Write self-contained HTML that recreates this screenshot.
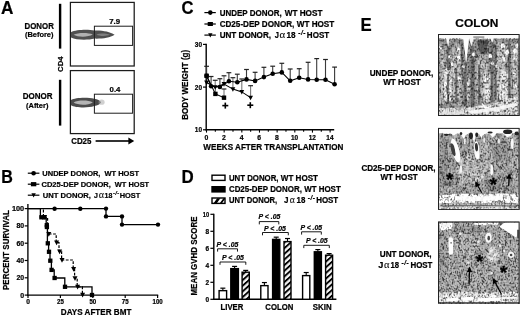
<!DOCTYPE html>
<html lang="en"><head><meta charset="utf-8"><title>Figure</title>
<style>
html,body{margin:0;padding:0;background:#fff;}
body{width:520px;height:316px;overflow:hidden;}
svg{display:block;font-family:'Liberation Sans', sans-serif;}
</style></head><body>
<svg width="520" height="316" viewBox="0 0 520 316" font-family="'Liberation Sans', sans-serif" fill="#000">
<defs>
<filter id="soft" x="0" y="0" width="100%" height="100%" filterUnits="userSpaceOnUse"><feGaussianBlur stdDeviation="0.28"/></filter>
<filter id="blur1" x="-20%" y="-50%" width="140%" height="200%"><feGaussianBlur stdDeviation="0.45"/></filter>
<pattern id="hatch" width="4.2" height="4.2" patternUnits="userSpaceOnUse" patternTransform="rotate(-42)">
<rect width="4.2" height="4.2" fill="#f4f4f4"/><rect width="4.2" height="1.9" fill="#000"/></pattern>
<filter id="hb" filterUnits="userSpaceOnUse" x="0" y="0" width="81" height="81.4"><feGaussianBlur stdDeviation="0.55"/></filter>
<filter id="h0" filterUnits="userSpaceOnUse" x="0" y="0" width="81" height="81.4" color-interpolation-filters="sRGB"><feGaussianBlur in="SourceGraphic" stdDeviation="0.6" result="s"/><feTurbulence type="fractalNoise" baseFrequency="0.3 0.2" numOctaves="2" seed="4"/><feColorMatrix type="matrix" values="0.5 0.5 0 0 0  0.5 0.5 0 0 0  0.5 0.5 0 0 0  0 0 0 0 1" result="a"/><feTurbulence type="fractalNoise" baseFrequency="0.62 0.5" numOctaves="1" seed="41"/><feColorMatrix type="matrix" values="0.5 0.5 0 0 0  0.5 0.5 0 0 0  0.5 0.5 0 0 0  0 0 0 0 1" result="b"/><feComposite in="a" in2="b" operator="arithmetic" k1="0" k2="0.45" k3="0.75" k4="-0.100"/><feComponentTransfer result="n"><feFuncR type="table" tableValues="0.281 0.281 0.281 0.281 0.281 0.281 0.297 0.344 0.453 0.625 0.781 0.859 0.914 0.953 0.984 1.000 1.000 1.000 1.000 1.000 1.000"/><feFuncG type="table" tableValues="0.281 0.281 0.281 0.281 0.281 0.281 0.297 0.344 0.453 0.625 0.781 0.859 0.914 0.953 0.984 1.000 1.000 1.000 1.000 1.000 1.000"/><feFuncB type="table" tableValues="0.281 0.281 0.281 0.281 0.281 0.281 0.297 0.344 0.453 0.625 0.781 0.859 0.914 0.953 0.984 1.000 1.000 1.000 1.000 1.000 1.000"/><feFuncA type="linear" slope="0" intercept="1"/></feComponentTransfer><feComposite in="s" in2="n" operator="arithmetic" k1="1.357" k2="0.0" k3="0" k4="0" result="o"/><feGaussianBlur in="o" stdDeviation="0.34"/></filter>
<filter id="h1" filterUnits="userSpaceOnUse" x="0" y="0" width="81" height="81.4" color-interpolation-filters="sRGB"><feGaussianBlur in="SourceGraphic" stdDeviation="0.6" result="s"/><feTurbulence type="fractalNoise" baseFrequency="0.28 0.17" numOctaves="2" seed="17"/><feColorMatrix type="matrix" values="0.5 0.5 0 0 0  0.5 0.5 0 0 0  0.5 0.5 0 0 0  0 0 0 0 1" result="a"/><feTurbulence type="fractalNoise" baseFrequency="0.62 0.52" numOctaves="1" seed="43"/><feColorMatrix type="matrix" values="0.5 0.5 0 0 0  0.5 0.5 0 0 0  0.5 0.5 0 0 0  0 0 0 0 1" result="b"/><feComposite in="a" in2="b" operator="arithmetic" k1="0" k2="0.45" k3="0.75" k4="-0.100"/><feComponentTransfer result="n"><feFuncR type="table" tableValues="0.281 0.281 0.281 0.281 0.281 0.281 0.297 0.344 0.453 0.625 0.781 0.859 0.914 0.953 0.984 1.000 1.000 1.000 1.000 1.000 1.000"/><feFuncG type="table" tableValues="0.281 0.281 0.281 0.281 0.281 0.281 0.297 0.344 0.453 0.625 0.781 0.859 0.914 0.953 0.984 1.000 1.000 1.000 1.000 1.000 1.000"/><feFuncB type="table" tableValues="0.281 0.281 0.281 0.281 0.281 0.281 0.297 0.344 0.453 0.625 0.781 0.859 0.914 0.953 0.984 1.000 1.000 1.000 1.000 1.000 1.000"/><feFuncA type="linear" slope="0" intercept="1"/></feComponentTransfer><feComposite in="s" in2="n" operator="arithmetic" k1="1.408" k2="0.0" k3="0" k4="0" result="o"/><feGaussianBlur in="o" stdDeviation="0.34"/></filter>
<filter id="h2" filterUnits="userSpaceOnUse" x="0" y="0" width="81" height="81.4" color-interpolation-filters="sRGB"><feGaussianBlur in="SourceGraphic" stdDeviation="0.6" result="s"/><feTurbulence type="fractalNoise" baseFrequency="0.3 0.18" numOctaves="2" seed="29"/><feColorMatrix type="matrix" values="0.5 0.5 0 0 0  0.5 0.5 0 0 0  0.5 0.5 0 0 0  0 0 0 0 1" result="a"/><feTurbulence type="fractalNoise" baseFrequency="0.64 0.54" numOctaves="1" seed="47"/><feColorMatrix type="matrix" values="0.5 0.5 0 0 0  0.5 0.5 0 0 0  0.5 0.5 0 0 0  0 0 0 0 1" result="b"/><feComposite in="a" in2="b" operator="arithmetic" k1="0" k2="0.4" k3="0.8" k4="-0.100"/><feComponentTransfer result="n"><feFuncR type="table" tableValues="0.281 0.281 0.281 0.281 0.281 0.281 0.297 0.344 0.453 0.625 0.781 0.859 0.914 0.953 0.984 1.000 1.000 1.000 1.000 1.000 1.000"/><feFuncG type="table" tableValues="0.281 0.281 0.281 0.281 0.281 0.281 0.297 0.344 0.453 0.625 0.781 0.859 0.914 0.953 0.984 1.000 1.000 1.000 1.000 1.000 1.000"/><feFuncB type="table" tableValues="0.281 0.281 0.281 0.281 0.281 0.281 0.297 0.344 0.453 0.625 0.781 0.859 0.914 0.953 0.984 1.000 1.000 1.000 1.000 1.000 1.000"/><feFuncA type="linear" slope="0" intercept="1"/></feComponentTransfer><feComposite in="s" in2="n" operator="arithmetic" k1="1.498" k2="0.0" k3="0" k4="0" result="o"/><feGaussianBlur in="o" stdDeviation="0.34"/></filter>
</defs>
<rect width="520" height="316" fill="#fff"/>
<g filter="url(#soft)">
<g id="panelA">
<text x="0.9" y="13.7" font-size="17.5" font-weight="bold" text-anchor="start" textLength="12.4" lengthAdjust="spacingAndGlyphs" stroke="#000" stroke-width="0.22">A</text>
<rect x="58.9" y="3.8" width="2.4" height="44.8"/>
<rect x="58.9" y="79.8" width="2.4" height="45.8"/>
<g filter="url(#blur1)">
<path d="M71 32.2C76 29.6 88 29.2 94.4 30.6C102 30.2 110 31.8 114.6 34.8C110 38 102 38.8 94.4 38.6C88 40.4 76 40.2 71 37.6C70.2 36 70.2 33.8 71 32.2Z" fill="#505050"/>
<path d="M73.6 34.8C78 32.6 88 32.4 92.8 34.6C88 37.4 78 37.4 73.6 34.8Z" fill="#b0b0b0"/>
<path d="M96.4 34.4C100 33 106 33.4 110 34.8C106 36.2 100 36.4 96.4 34.4Z" fill="#808080"/>
<path d="M71 100C75 97.4 88 97 94.2 98.8C97.6 99 100 100.6 101 102.2C100 104.4 97.6 105.6 94.2 106C88 108.2 75 107.8 71 105.2C70.2 103.6 70.2 101.6 71 100Z" fill="#4c4c4c"/>
<path d="M73.6 102.6C78 100 88 100 92.8 102.4C88 105.4 78 105.4 73.6 102.6Z" fill="#b4b4b4"/>
<ellipse cx="101.6" cy="102.2" rx="3" ry="2.6" fill="#aaa" opacity=".55"/>
</g>
<g fill="none" stroke="#1c1c1c" stroke-width="1.25">
<rect x="70.4" y="2.4" width="63.8" height="63.6"/>
<rect x="70.4" y="70.6" width="63.8" height="63"/>
<rect x="94.4" y="26.2" width="38.2" height="19.2" stroke-width="1"/>
<rect x="94.4" y="94.2" width="38.2" height="19" stroke-width="1"/>
</g>
<text x="114.6" y="24.3" font-size="7.8" font-weight="bold" text-anchor="middle" textLength="10.8" lengthAdjust="spacingAndGlyphs" stroke="#000" stroke-width="0.22">7.9</text>
<text x="115" y="92.1" font-size="7.8" font-weight="bold" text-anchor="middle" textLength="10.8" lengthAdjust="spacingAndGlyphs" stroke="#000" stroke-width="0.22">0.4</text>
<text x="39.2" y="28.5" font-size="8.5" font-weight="bold" text-anchor="middle" textLength="29.2" lengthAdjust="spacingAndGlyphs" stroke="#000" stroke-width="0.22">DONOR</text>
<text x="39.2" y="36.7" font-size="7.8" font-weight="bold" text-anchor="middle" textLength="28.6" lengthAdjust="spacingAndGlyphs" stroke="#000" stroke-width="0.22">(Before)</text>
<text x="37.6" y="99.1" font-size="8.5" font-weight="bold" text-anchor="middle" textLength="29.8" lengthAdjust="spacingAndGlyphs" stroke="#000" stroke-width="0.22">DONOR</text>
<text x="37.2" y="107.7" font-size="7.8" font-weight="bold" text-anchor="middle" textLength="22.4" lengthAdjust="spacingAndGlyphs" stroke="#000" stroke-width="0.22">(After)</text>
<text transform="translate(63 64.2) rotate(-90)" font-size="8" font-weight="bold" text-anchor="middle" stroke="#000" stroke-width="0.22" textLength="15.6" lengthAdjust="spacingAndGlyphs">CD4</text>
<text x="71.2" y="144.2" font-size="8.4" font-weight="bold" text-anchor="start" textLength="20.2" lengthAdjust="spacingAndGlyphs" stroke="#000" stroke-width="0.22">CD25</text>
<rect x="95.6" y="140.2" width="34.6" height="1.6"/>
<path d="M128.4 137.6L134.2 141L128.4 144.4Z"/>
</g>
<g id="panelB">
<text x="1.2" y="182.8" font-size="17.5" font-weight="bold" text-anchor="start" textLength="11.6" lengthAdjust="spacingAndGlyphs" stroke="#000" stroke-width="0.22">B</text>
<line x1="27.8" y1="173.2" x2="39.4" y2="173.2" stroke="#000" stroke-width="1.2"/>
<line x1="27.8" y1="184.2" x2="39.4" y2="184.2" stroke="#000" stroke-width="1.2"/>
<line x1="27.8" y1="195.2" x2="39.4" y2="195.2" stroke="#000" stroke-width="1.2"/>
<circle cx="33.6" cy="173.2" r="2.3"/>
<rect x="30.9" y="182.10" width="5.4" height="4.2"/>
<path d="M31.400000000000002 193.34H35.800000000000004L33.6 197.51999999999998Z"/>
<text x="42.35" y="175.9" font-size="7.5" font-weight="bold" text-anchor="start" textLength="58.1" lengthAdjust="spacingAndGlyphs" stroke="#000" stroke-width="0.22">UNDEP DONOR,</text>
<text x="104.45" y="175.9" font-size="7.5" font-weight="bold" text-anchor="start" textLength="34.6" lengthAdjust="spacingAndGlyphs" stroke="#000" stroke-width="0.22">WT HOST</text>
<text x="41.45" y="186.9" font-size="7.5" font-weight="bold" text-anchor="start" textLength="69.4" lengthAdjust="spacingAndGlyphs" stroke="#000" stroke-width="0.22">CD25-DEP DONOR,</text>
<text x="114.85" y="186.9" font-size="7.5" font-weight="bold" text-anchor="start" textLength="34.3" lengthAdjust="spacingAndGlyphs" stroke="#000" stroke-width="0.22">WT HOST</text>
<text x="42.75" y="197.8" font-size="7.5" font-weight="bold" text-anchor="start" textLength="48.2" lengthAdjust="spacingAndGlyphs" stroke="#000" stroke-width="0.22">UNT DONOR,</text>
<text x="94.05" y="197.8" font-size="7.5" font-weight="bold" text-anchor="start" textLength="3.9" lengthAdjust="spacingAndGlyphs" stroke="#000" stroke-width="0.22">J</text>
<text x="98.70" y="197.8" font-size="9.75" font-weight="normal" font-family="'Liberation Serif', serif" fill="#111" stroke="#111" stroke-width="0.12" textLength="5.30" lengthAdjust="spacingAndGlyphs">α</text>
<text x="104.55" y="197.8" font-size="7.5" font-weight="bold" text-anchor="start" textLength="7.8" lengthAdjust="spacingAndGlyphs" stroke="#000" stroke-width="0.22">18</text>
<text x="113.1" y="195.1" font-size="5.85" font-weight="bold" text-anchor="start" font-style="italic" letter-spacing="0.24" stroke="#000" stroke-width="0.2">-/-</text>
<text x="119.75" y="197.8" font-size="7.5" font-weight="bold" text-anchor="start" textLength="20.6" lengthAdjust="spacingAndGlyphs" stroke="#000" stroke-width="0.22">HOST</text>
<line x1="27.9" y1="204" x2="27.9" y2="295.70000000000005" stroke="#000" stroke-width="1.35"/>
<line x1="27.299999999999997" y1="295.1" x2="158.2" y2="295.1" stroke="#000" stroke-width="1.35"/>
<line x1="24.7" y1="295.1" x2="27.9" y2="295.1" stroke="#000" stroke-width="1.2"/>
<text x="24.099999999999998" y="297.6" font-size="7" font-weight="bold" text-anchor="end" textLength="3.9" lengthAdjust="spacingAndGlyphs" stroke="#000" stroke-width="0.22">0</text>
<line x1="24.7" y1="277.8" x2="27.9" y2="277.8" stroke="#000" stroke-width="1.2"/>
<text x="24.099999999999998" y="280.3" font-size="7" font-weight="bold" text-anchor="end" textLength="7.7" lengthAdjust="spacingAndGlyphs" stroke="#000" stroke-width="0.22">20</text>
<line x1="24.7" y1="260.5" x2="27.9" y2="260.5" stroke="#000" stroke-width="1.2"/>
<text x="24.099999999999998" y="263.0" font-size="7" font-weight="bold" text-anchor="end" textLength="7.7" lengthAdjust="spacingAndGlyphs" stroke="#000" stroke-width="0.22">40</text>
<line x1="24.7" y1="243.2" x2="27.9" y2="243.2" stroke="#000" stroke-width="1.2"/>
<text x="24.099999999999998" y="245.7" font-size="7" font-weight="bold" text-anchor="end" textLength="7.7" lengthAdjust="spacingAndGlyphs" stroke="#000" stroke-width="0.22">60</text>
<line x1="24.7" y1="225.9" x2="27.9" y2="225.9" stroke="#000" stroke-width="1.2"/>
<text x="24.099999999999998" y="228.4" font-size="7" font-weight="bold" text-anchor="end" textLength="7.7" lengthAdjust="spacingAndGlyphs" stroke="#000" stroke-width="0.22">80</text>
<line x1="24.7" y1="208.59999999999997" x2="27.9" y2="208.59999999999997" stroke="#000" stroke-width="1.2"/>
<text x="24.099999999999998" y="211.09999999999997" font-size="7" font-weight="bold" text-anchor="end" textLength="12.2" lengthAdjust="spacingAndGlyphs" stroke="#000" stroke-width="0.22">100</text>
<line x1="28.0" y1="295.1" x2="28.0" y2="297.90000000000003" stroke="#000" stroke-width="1.2"/>
<text x="28.0" y="304.40000000000003" font-size="6.8" font-weight="bold" text-anchor="middle" textLength="3.7" lengthAdjust="spacingAndGlyphs" stroke="#000" stroke-width="0.22">0</text>
<line x1="60.4" y1="295.1" x2="60.4" y2="297.90000000000003" stroke="#000" stroke-width="1.2"/>
<text x="60.4" y="304.40000000000003" font-size="6.8" font-weight="bold" text-anchor="middle" textLength="6.8" lengthAdjust="spacingAndGlyphs" stroke="#000" stroke-width="0.22">25</text>
<line x1="92.8" y1="295.1" x2="92.8" y2="297.90000000000003" stroke="#000" stroke-width="1.2"/>
<text x="92.8" y="304.40000000000003" font-size="6.8" font-weight="bold" text-anchor="middle" textLength="6.8" lengthAdjust="spacingAndGlyphs" stroke="#000" stroke-width="0.22">50</text>
<line x1="125.2" y1="295.1" x2="125.2" y2="297.90000000000003" stroke="#000" stroke-width="1.2"/>
<text x="125.2" y="304.40000000000003" font-size="6.8" font-weight="bold" text-anchor="middle" textLength="6.8" lengthAdjust="spacingAndGlyphs" stroke="#000" stroke-width="0.22">75</text>
<line x1="157.6" y1="295.1" x2="157.6" y2="297.90000000000003" stroke="#000" stroke-width="1.2"/>
<text x="157.6" y="304.40000000000003" font-size="6.8" font-weight="bold" text-anchor="middle" textLength="10.2" lengthAdjust="spacingAndGlyphs" stroke="#000" stroke-width="0.22">100</text>
<text x="60.85" y="315.1" font-size="8.5" font-weight="bold" text-anchor="start" textLength="70.5" lengthAdjust="spacingAndGlyphs" stroke="#000" stroke-width="0.22">DAYS AFTER BMT</text>
<text transform="translate(8.5 250) rotate(-90)" font-size="8.6" font-weight="bold" text-anchor="middle" stroke="#000" stroke-width="0.22" textLength="80" lengthAdjust="spacingAndGlyphs">PERCENT SURVIVAL</text>
<polyline fill="none" stroke="#000" stroke-width="1.3" points="28,208.6 106,208.6 106,216.4 122,216.4 122,224.6 158,224.6"/>
<circle cx="54.6" cy="208.7" r="2.2"/>
<circle cx="80.3" cy="208.7" r="2.2"/>
<circle cx="106" cy="208.6" r="2.2"/>
<circle cx="106" cy="216.4" r="2.2"/>
<circle cx="122" cy="216.4" r="2.2"/>
<circle cx="122" cy="224.6" r="2.2"/>
<circle cx="158" cy="224.6" r="2.2"/>
<path d="M27.9 208.6H40.4V217.3H46.2V226H47.4V243.3H48.6V251.8H50V260.7H51.4V269.9H54.2V278H64.8V286.8H92V295" fill="none" stroke="#000" stroke-width="1.3"/>
<rect x="39.25" y="215.15" width="4.3" height="4.3"/>
<rect x="42.050000000000004" y="215.15" width="4.3" height="4.3"/>
<rect x="44.65" y="223.04999999999998" width="4.3" height="4.3"/>
<rect x="44.75" y="224.85" width="4.3" height="4.3"/>
<rect x="45.65" y="241.15" width="4.3" height="4.3"/>
<rect x="46.85" y="249.65" width="4.3" height="4.3"/>
<rect x="48.15" y="258.55" width="4.3" height="4.3"/>
<rect x="49.45" y="267.75" width="4.3" height="4.3"/>
<rect x="52.45" y="275.85" width="4.3" height="4.3"/>
<rect x="62.85" y="284.65000000000003" width="4.3" height="4.3"/>
<rect x="89.85" y="292.85" width="4.3" height="4.3"/>
<path d="M43.4 209.6V216M47.6 218V234H56.2V242.6H59V251.4H61.6V260H73.2V269H74.6V278.2H77.2V286.8H82.4V295" fill="none" stroke="#000" stroke-width="1.2" stroke-dasharray="2.8 1.5"/>
<path d="M42.1 215.0H47.1L44.6 219.75Z"/>
<path d="M46.3 232.0H51.3L48.8 236.75Z"/>
<path d="M54.1 240.6H59.1L56.6 245.35Z"/>
<path d="M57.1 249.4H62.1L59.6 254.15Z"/>
<path d="M59.5 258.0H64.5L62 262.75Z"/>
<path d="M71.1 267.0H76.1L73.6 271.75Z"/>
<path d="M72.5 276.2H77.5L75 280.95Z"/>
<path d="M75.1 284.8H80.1L77.6 289.55Z"/>
<path d="M80.1 292.8H85.1L82.6 297.55Z"/>
</g>
<g id="panelC">
<text x="181.6" y="13.8" font-size="17.5" font-weight="bold" text-anchor="start" textLength="12" lengthAdjust="spacingAndGlyphs" stroke="#000" stroke-width="0.22">C</text>
<line x1="204.4" y1="12.6" x2="215.8" y2="12.6" stroke="#000" stroke-width="1.2"/>
<line x1="204.4" y1="24" x2="215.8" y2="24" stroke="#000" stroke-width="1.2"/>
<line x1="204.4" y1="35.1" x2="215.8" y2="35.1" stroke="#000" stroke-width="1.2"/>
<circle cx="210.3" cy="12.6" r="2.3"/>
<rect x="207.7" y="22.00" width="5.2" height="4"/>
<path d="M208.10000000000002 33.24H212.5L210.3 37.42Z"/>
<text x="219.65" y="16" font-size="8.3" font-weight="bold" text-anchor="start" textLength="62.0" lengthAdjust="spacingAndGlyphs" stroke="#000" stroke-width="0.22">UNDEP DONOR,</text>
<text x="284.65" y="16" font-size="8.3" font-weight="bold" text-anchor="start" textLength="37.8" lengthAdjust="spacingAndGlyphs" stroke="#000" stroke-width="0.22">WT HOST</text>
<text x="219.65" y="27" font-size="8.3" font-weight="bold" text-anchor="start" textLength="74.7" lengthAdjust="spacingAndGlyphs" stroke="#000" stroke-width="0.22">CD25-DEP DONOR,</text>
<text x="296.75" y="27" font-size="8.3" font-weight="bold" text-anchor="start" textLength="37.5" lengthAdjust="spacingAndGlyphs" stroke="#000" stroke-width="0.22">WT HOST</text>
<text x="219.65" y="37.9" font-size="8.3" font-weight="bold" text-anchor="start" textLength="51.4" lengthAdjust="spacingAndGlyphs" stroke="#000" stroke-width="0.22">UNT DONOR,</text>
<text x="274.65" y="37.9" font-size="8.3" font-weight="bold" text-anchor="start" textLength="4.2" lengthAdjust="spacingAndGlyphs" stroke="#000" stroke-width="0.22">J</text>
<text x="279.40" y="37.9" font-size="10.79" font-weight="normal" font-family="'Liberation Serif', serif" fill="#111" stroke="#111" stroke-width="0.12" textLength="5.70" lengthAdjust="spacingAndGlyphs">α</text>
<text x="286.55" y="37.9" font-size="8.3" font-weight="bold" text-anchor="start" textLength="9.1" lengthAdjust="spacingAndGlyphs" stroke="#000" stroke-width="0.22">18</text>
<text x="298.3" y="34.91" font-size="6.47" font-weight="bold" text-anchor="start" font-style="italic" letter-spacing="0.44" stroke="#000" stroke-width="0.2">-/-</text>
<text x="306.85" y="37.9" font-size="8.3" font-weight="bold" text-anchor="start" textLength="22.3" lengthAdjust="spacingAndGlyphs" stroke="#000" stroke-width="0.22">HOST</text>
<line x1="206.2" y1="43.8" x2="206.2" y2="130.4" stroke="#000" stroke-width="1.4"/>
<line x1="205.6" y1="129.8" x2="334.2" y2="129.8" stroke="#000" stroke-width="1.4"/>
<line x1="203.0" y1="129.8" x2="206.2" y2="129.8" stroke="#000" stroke-width="1.2"/>
<text x="202.0" y="132.3" font-size="7" font-weight="bold" text-anchor="end" textLength="7.2" lengthAdjust="spacingAndGlyphs" stroke="#000" stroke-width="0.22">10</text>
<line x1="203.0" y1="87.10000000000001" x2="206.2" y2="87.10000000000001" stroke="#000" stroke-width="1.2"/>
<text x="202.0" y="89.60000000000001" font-size="7" font-weight="bold" text-anchor="end" textLength="7.2" lengthAdjust="spacingAndGlyphs" stroke="#000" stroke-width="0.22">20</text>
<line x1="203.0" y1="44.400000000000006" x2="206.2" y2="44.400000000000006" stroke="#000" stroke-width="1.2"/>
<text x="202.0" y="46.900000000000006" font-size="7" font-weight="bold" text-anchor="end" textLength="7.2" lengthAdjust="spacingAndGlyphs" stroke="#000" stroke-width="0.22">30</text>
<line x1="206.5" y1="129.8" x2="206.5" y2="132.60000000000002" stroke="#000" stroke-width="1.1"/>
<text x="206.3" y="140.20000000000002" font-size="6.8" font-weight="bold" text-anchor="middle" textLength="3.8" lengthAdjust="spacingAndGlyphs" stroke="#000" stroke-width="0.22">0</text>
<line x1="215.33" y1="129.8" x2="215.33" y2="131.70000000000002" stroke="#000" stroke-width="1.1"/>
<line x1="224.16" y1="129.8" x2="224.16" y2="132.60000000000002" stroke="#000" stroke-width="1.1"/>
<text x="223.96" y="140.20000000000002" font-size="6.8" font-weight="bold" text-anchor="middle" textLength="3.8" lengthAdjust="spacingAndGlyphs" stroke="#000" stroke-width="0.22">2</text>
<line x1="232.99" y1="129.8" x2="232.99" y2="131.70000000000002" stroke="#000" stroke-width="1.1"/>
<line x1="241.82" y1="129.8" x2="241.82" y2="132.60000000000002" stroke="#000" stroke-width="1.1"/>
<text x="241.62" y="140.20000000000002" font-size="6.8" font-weight="bold" text-anchor="middle" textLength="3.8" lengthAdjust="spacingAndGlyphs" stroke="#000" stroke-width="0.22">4</text>
<line x1="250.65" y1="129.8" x2="250.65" y2="131.70000000000002" stroke="#000" stroke-width="1.1"/>
<line x1="259.48" y1="129.8" x2="259.48" y2="132.60000000000002" stroke="#000" stroke-width="1.1"/>
<text x="259.28000000000003" y="140.20000000000002" font-size="6.8" font-weight="bold" text-anchor="middle" textLength="3.8" lengthAdjust="spacingAndGlyphs" stroke="#000" stroke-width="0.22">6</text>
<line x1="268.31" y1="129.8" x2="268.31" y2="131.70000000000002" stroke="#000" stroke-width="1.1"/>
<line x1="277.14" y1="129.8" x2="277.14" y2="132.60000000000002" stroke="#000" stroke-width="1.1"/>
<text x="276.94" y="140.20000000000002" font-size="6.8" font-weight="bold" text-anchor="middle" textLength="3.8" lengthAdjust="spacingAndGlyphs" stroke="#000" stroke-width="0.22">8</text>
<line x1="285.97" y1="129.8" x2="285.97" y2="131.70000000000002" stroke="#000" stroke-width="1.1"/>
<line x1="294.8" y1="129.8" x2="294.8" y2="132.60000000000002" stroke="#000" stroke-width="1.1"/>
<text x="294.6" y="140.20000000000002" font-size="6.8" font-weight="bold" text-anchor="middle" textLength="7.2" lengthAdjust="spacingAndGlyphs" stroke="#000" stroke-width="0.22">10</text>
<line x1="303.63" y1="129.8" x2="303.63" y2="131.70000000000002" stroke="#000" stroke-width="1.1"/>
<line x1="312.46000000000004" y1="129.8" x2="312.46000000000004" y2="132.60000000000002" stroke="#000" stroke-width="1.1"/>
<text x="312.26000000000005" y="140.20000000000002" font-size="6.8" font-weight="bold" text-anchor="middle" textLength="7.2" lengthAdjust="spacingAndGlyphs" stroke="#000" stroke-width="0.22">12</text>
<line x1="321.29" y1="129.8" x2="321.29" y2="131.70000000000002" stroke="#000" stroke-width="1.1"/>
<line x1="330.12" y1="129.8" x2="330.12" y2="132.60000000000002" stroke="#000" stroke-width="1.1"/>
<text x="329.92" y="140.20000000000002" font-size="6.8" font-weight="bold" text-anchor="middle" textLength="7.2" lengthAdjust="spacingAndGlyphs" stroke="#000" stroke-width="0.22">14</text>
<text x="203.35" y="150.1" font-size="8.5" font-weight="bold" text-anchor="start" textLength="140.0" lengthAdjust="spacingAndGlyphs" stroke="#000" stroke-width="0.22">WEEKS AFTER TRANSPLANTATION</text>
<text transform="translate(188.2 84.8) rotate(-90)" font-size="8.6" font-weight="bold" text-anchor="middle" stroke="#000" stroke-width="0.22" textLength="70" lengthAdjust="spacingAndGlyphs">BODY WEIGHT (g)</text>
<line x1="215.4" y1="93.9" x2="215.4" y2="86.5" stroke="#000" stroke-width="1.1" style="stroke:#777"/>
<line x1="213.0" y1="86.5" x2="217.8" y2="86.5" stroke="#000" stroke-width="1.2" style="stroke:#222"/>
<line x1="224" y1="97.7" x2="224" y2="89" stroke="#000" stroke-width="1.1" style="stroke:#777"/>
<line x1="221.6" y1="89" x2="226.4" y2="89" stroke="#000" stroke-width="1.2" style="stroke:#222"/>
<line x1="215.2" y1="87.2" x2="215.2" y2="80.3" stroke="#000" stroke-width="1.1" style="stroke:#777"/>
<line x1="212.79999999999998" y1="80.3" x2="217.6" y2="80.3" stroke="#000" stroke-width="1.2" style="stroke:#222"/>
<line x1="224" y1="84" x2="224" y2="75.8" stroke="#000" stroke-width="1.1" style="stroke:#777"/>
<line x1="221.6" y1="75.8" x2="226.4" y2="75.8" stroke="#000" stroke-width="1.2" style="stroke:#222"/>
<line x1="232.9" y1="89.1" x2="232.9" y2="77.7" stroke="#000" stroke-width="1.1" style="stroke:#777"/>
<line x1="230.5" y1="77.7" x2="235.3" y2="77.7" stroke="#000" stroke-width="1.2" style="stroke:#222"/>
<line x1="241.8" y1="91.9" x2="241.8" y2="79" stroke="#000" stroke-width="1.1" style="stroke:#777"/>
<line x1="239.4" y1="79" x2="244.20000000000002" y2="79" stroke="#000" stroke-width="1.2" style="stroke:#222"/>
<line x1="250.6" y1="97.6" x2="250.6" y2="85.7" stroke="#000" stroke-width="1.1" style="stroke:#777"/>
<line x1="248.2" y1="85.7" x2="253.0" y2="85.7" stroke="#000" stroke-width="1.2" style="stroke:#222"/>
<line x1="206.6" y1="75.8" x2="206.6" y2="66.3" stroke="#000" stroke-width="1.1" style="stroke:#3a3a3a"/>
<line x1="204.2" y1="66.3" x2="209.0" y2="66.3" stroke="#000" stroke-width="1.2" style="stroke:#222"/>
<line x1="211.1" y1="86.3" x2="211.1" y2="76.5" stroke="#000" stroke-width="1.1" style="stroke:#3a3a3a"/>
<line x1="208.7" y1="76.5" x2="213.5" y2="76.5" stroke="#000" stroke-width="1.2" style="stroke:#222"/>
<line x1="219.9" y1="87" x2="219.9" y2="78.7" stroke="#000" stroke-width="1.1" style="stroke:#3a3a3a"/>
<line x1="217.5" y1="78.7" x2="222.3" y2="78.7" stroke="#000" stroke-width="1.2" style="stroke:#222"/>
<line x1="228.9" y1="81.3" x2="228.9" y2="72.7" stroke="#000" stroke-width="1.1" style="stroke:#3a3a3a"/>
<line x1="226.5" y1="72.7" x2="231.3" y2="72.7" stroke="#000" stroke-width="1.2" style="stroke:#222"/>
<line x1="237.3" y1="82.2" x2="237.3" y2="74.2" stroke="#000" stroke-width="1.1" style="stroke:#3a3a3a"/>
<line x1="234.9" y1="74.2" x2="239.70000000000002" y2="74.2" stroke="#000" stroke-width="1.2" style="stroke:#222"/>
<line x1="246.5" y1="79.4" x2="246.5" y2="69.5" stroke="#000" stroke-width="1.1" style="stroke:#3a3a3a"/>
<line x1="244.1" y1="69.5" x2="248.9" y2="69.5" stroke="#000" stroke-width="1.2" style="stroke:#222"/>
<line x1="255.1" y1="80.9" x2="255.1" y2="72.3" stroke="#000" stroke-width="1.1" style="stroke:#3a3a3a"/>
<line x1="252.7" y1="72.3" x2="257.5" y2="72.3" stroke="#000" stroke-width="1.2" style="stroke:#222"/>
<line x1="263.9" y1="77.1" x2="263.9" y2="67.3" stroke="#000" stroke-width="1.1" style="stroke:#3a3a3a"/>
<line x1="261.5" y1="67.3" x2="266.29999999999995" y2="67.3" stroke="#000" stroke-width="1.2" style="stroke:#222"/>
<line x1="272.7" y1="73.7" x2="272.7" y2="66.2" stroke="#000" stroke-width="1.1" style="stroke:#3a3a3a"/>
<line x1="270.3" y1="66.2" x2="275.09999999999997" y2="66.2" stroke="#000" stroke-width="1.2" style="stroke:#222"/>
<line x1="281.8" y1="72.4" x2="281.8" y2="63.3" stroke="#000" stroke-width="1.1" style="stroke:#3a3a3a"/>
<line x1="279.40000000000003" y1="63.3" x2="284.2" y2="63.3" stroke="#000" stroke-width="1.2" style="stroke:#222"/>
<line x1="290.2" y1="80.8" x2="290.2" y2="69" stroke="#000" stroke-width="1.1" style="stroke:#3a3a3a"/>
<line x1="287.8" y1="69" x2="292.59999999999997" y2="69" stroke="#000" stroke-width="1.2" style="stroke:#222"/>
<line x1="299.2" y1="77.8" x2="299.2" y2="68.7" stroke="#000" stroke-width="1.1" style="stroke:#3a3a3a"/>
<line x1="296.8" y1="68.7" x2="301.59999999999997" y2="68.7" stroke="#000" stroke-width="1.2" style="stroke:#222"/>
<line x1="308.1" y1="79.4" x2="308.1" y2="62.3" stroke="#000" stroke-width="1.1" style="stroke:#3a3a3a"/>
<line x1="305.70000000000005" y1="62.3" x2="310.5" y2="62.3" stroke="#000" stroke-width="1.2" style="stroke:#222"/>
<line x1="316.7" y1="79.7" x2="316.7" y2="58.6" stroke="#000" stroke-width="1.1" style="stroke:#3a3a3a"/>
<line x1="314.3" y1="58.6" x2="319.09999999999997" y2="58.6" stroke="#000" stroke-width="1.2" style="stroke:#222"/>
<line x1="325.5" y1="79.7" x2="325.5" y2="59.5" stroke="#000" stroke-width="1.1" style="stroke:#3a3a3a"/>
<line x1="323.1" y1="59.5" x2="327.9" y2="59.5" stroke="#000" stroke-width="1.2" style="stroke:#222"/>
<line x1="334.6" y1="84.2" x2="334.6" y2="67.1" stroke="#000" stroke-width="1.1" style="stroke:#3a3a3a"/>
<line x1="332.20000000000005" y1="67.1" x2="337.0" y2="67.1" stroke="#000" stroke-width="1.2" style="stroke:#222"/>
<polyline fill="none" stroke="#000" stroke-width="1.05" points="206.6,75.8 215.4,93.9 224,97.7"/>
<polyline fill="none" stroke="#000" stroke-width="1.05" points="206.6,82.5 215.2,87.2 224,84 232.9,89.1 241.8,91.9 250.6,97.6"/>
<polyline fill="none" stroke="#000" stroke-width="1.05" points="206.6,75.8 211.1,86.3 219.9,87 228.9,81.3 237.3,82.2 246.5,79.4 255.1,80.9 263.9,77.1 272.7,73.7 281.8,72.4 290.2,80.8 299.2,77.8 308.1,79.4 316.7,79.7 325.5,79.7 334.6,84.2"/>
<rect x="204.4" y="73.6" width="4.4" height="4.4"/>
<rect x="213.20000000000002" y="91.7" width="4.4" height="4.4"/>
<rect x="221.8" y="95.5" width="4.4" height="4.4"/>
<path d="M204.2 80.58H209.0L206.6 85.14Z"/>
<path d="M212.79999999999998 85.28H217.6L215.2 89.84Z"/>
<path d="M221.6 82.08H226.4L224 86.64Z"/>
<path d="M230.5 87.17999999999999H235.3L232.9 91.74Z"/>
<path d="M239.4 89.98H244.20000000000002L241.8 94.54Z"/>
<path d="M248.2 95.67999999999999H253.0L250.6 100.24Z"/>
<circle cx="206.6" cy="75.8" r="2.3"/>
<circle cx="211.1" cy="86.3" r="2.3"/>
<circle cx="219.9" cy="87" r="2.3"/>
<circle cx="228.9" cy="81.3" r="2.3"/>
<circle cx="237.3" cy="82.2" r="2.3"/>
<circle cx="246.5" cy="79.4" r="2.3"/>
<circle cx="255.1" cy="80.9" r="2.3"/>
<circle cx="263.9" cy="77.1" r="2.3"/>
<circle cx="272.7" cy="73.7" r="2.3"/>
<circle cx="281.8" cy="72.4" r="2.3"/>
<circle cx="290.2" cy="80.8" r="2.3"/>
<circle cx="299.2" cy="77.8" r="2.3"/>
<circle cx="308.1" cy="79.4" r="2.3"/>
<circle cx="316.7" cy="79.7" r="2.3"/>
<circle cx="325.5" cy="79.7" r="2.3"/>
<circle cx="334.6" cy="84.2" r="2.3"/>
<line x1="222.3" y1="105.6" x2="228.3" y2="105.6" stroke="#000" stroke-width="1.6"/>
<line x1="225.3" y1="102.6" x2="225.3" y2="108.6" stroke="#000" stroke-width="1.6"/>
<line x1="247.3" y1="105.2" x2="253.3" y2="105.2" stroke="#000" stroke-width="1.6"/>
<line x1="250.3" y1="102.2" x2="250.3" y2="108.2" stroke="#000" stroke-width="1.6"/>
</g>
<g id="panelD">
<text x="181.6" y="182.6" font-size="17.5" font-weight="bold" text-anchor="start" textLength="12.2" lengthAdjust="spacingAndGlyphs" stroke="#000" stroke-width="0.22">D</text>
<rect x="212" y="175.2" width="13" height="5.2" fill="#fff" stroke="#000" stroke-width="1.4"/>
<rect x="211.3" y="186" width="14.4" height="6.6"/>
<rect x="212" y="198" width="13" height="5.4" fill="#fff" stroke="#000" stroke-width="1.4"/>
<path d="M213.4 203.4L217.2 198.2H220.4L216.6 203.4ZM219.6 203.4L223.4 198.2H225L225 199L221.8 203.4Z" fill="#000"/>
<text x="228.95" y="180.6" font-size="8.3" font-weight="bold" text-anchor="start" textLength="49.6" lengthAdjust="spacingAndGlyphs" stroke="#000" stroke-width="0.22">UNT DONOR,</text>
<text x="280.85" y="180.6" font-size="8.3" font-weight="bold" text-anchor="start" textLength="37.2" lengthAdjust="spacingAndGlyphs" stroke="#000" stroke-width="0.22">WT HOST</text>
<text x="228.95" y="192" font-size="8.3" font-weight="bold" text-anchor="start" textLength="72.9" lengthAdjust="spacingAndGlyphs" stroke="#000" stroke-width="0.22">CD25-DEP DONOR,</text>
<text x="304.15" y="192" font-size="8.3" font-weight="bold" text-anchor="start" textLength="36.6" lengthAdjust="spacingAndGlyphs" stroke="#000" stroke-width="0.22">WT HOST</text>
<text x="228.95" y="202.9" font-size="8.3" font-weight="bold" text-anchor="start" textLength="48.3" lengthAdjust="spacingAndGlyphs" stroke="#000" stroke-width="0.22">UNT DONOR,</text>
<text x="284.05" y="202.9" font-size="8.3" font-weight="bold" text-anchor="start" textLength="4.5" lengthAdjust="spacingAndGlyphs" stroke="#000" stroke-width="0.22">J</text>
<text x="289.80" y="202.9" font-size="10.79" font-weight="normal" font-family="'Liberation Serif', serif" fill="#111" stroke="#111" stroke-width="0.12" textLength="5.10" lengthAdjust="spacingAndGlyphs">α</text>
<text x="296.55" y="202.9" font-size="8.3" font-weight="bold" text-anchor="start" textLength="8.8" lengthAdjust="spacingAndGlyphs" stroke="#000" stroke-width="0.22">18</text>
<text x="307.7" y="199.91" font-size="6.47" font-weight="bold" text-anchor="start" font-style="italic" letter-spacing="0.59" stroke="#000" stroke-width="0.2">-/-</text>
<text x="316.15" y="202.9" font-size="8.3" font-weight="bold" text-anchor="start" textLength="22.1" lengthAdjust="spacingAndGlyphs" stroke="#000" stroke-width="0.22">HOST</text>
<line x1="213.8" y1="213.70000000000002" x2="213.8" y2="299.90000000000003" stroke="#000" stroke-width="1.4"/>
<line x1="213.20000000000002" y1="299.3" x2="336.4" y2="299.3" stroke="#000" stroke-width="1.4"/>
<line x1="210.4" y1="299.3" x2="213.8" y2="299.3" stroke="#000" stroke-width="1.2"/>
<text x="209.20000000000002" y="301.8" font-size="6.8" font-weight="bold" text-anchor="end" textLength="3.6" lengthAdjust="spacingAndGlyphs" stroke="#000" stroke-width="0.22">0</text>
<line x1="210.4" y1="282.3" x2="213.8" y2="282.3" stroke="#000" stroke-width="1.2"/>
<text x="209.20000000000002" y="284.8" font-size="6.8" font-weight="bold" text-anchor="end" textLength="3.6" lengthAdjust="spacingAndGlyphs" stroke="#000" stroke-width="0.22">2</text>
<line x1="210.4" y1="265.3" x2="213.8" y2="265.3" stroke="#000" stroke-width="1.2"/>
<text x="209.20000000000002" y="267.8" font-size="6.8" font-weight="bold" text-anchor="end" textLength="3.6" lengthAdjust="spacingAndGlyphs" stroke="#000" stroke-width="0.22">4</text>
<line x1="210.4" y1="248.3" x2="213.8" y2="248.3" stroke="#000" stroke-width="1.2"/>
<text x="209.20000000000002" y="250.8" font-size="6.8" font-weight="bold" text-anchor="end" textLength="3.6" lengthAdjust="spacingAndGlyphs" stroke="#000" stroke-width="0.22">6</text>
<line x1="210.4" y1="231.3" x2="213.8" y2="231.3" stroke="#000" stroke-width="1.2"/>
<text x="209.20000000000002" y="233.8" font-size="6.8" font-weight="bold" text-anchor="end" textLength="3.6" lengthAdjust="spacingAndGlyphs" stroke="#000" stroke-width="0.22">8</text>
<line x1="210.4" y1="214.3" x2="213.8" y2="214.3" stroke="#000" stroke-width="1.2"/>
<text x="209.20000000000002" y="216.8" font-size="6.8" font-weight="bold" text-anchor="end" textLength="6.4" lengthAdjust="spacingAndGlyphs" stroke="#000" stroke-width="0.22">10</text>
<text transform="translate(197.4 256) rotate(-90)" font-size="8.6" font-weight="bold" text-anchor="middle" stroke="#000" stroke-width="0.22" textLength="79" lengthAdjust="spacingAndGlyphs">MEAN GVHD SCORE</text>
<line x1="222.85" y1="290.545" x2="222.85" y2="288.165" stroke="#000" stroke-width="1.1"/>
<line x1="220.35" y1="288.165" x2="225.35" y2="288.165" stroke="#000" stroke-width="1.2"/>
<rect x="219.10" y="290.65" width="7.50" height="8.65" fill="#fff" stroke="#000" stroke-width="1.4"/>
<line x1="234.6" y1="268.53000000000003" x2="234.6" y2="266.40500000000003" stroke="#000" stroke-width="1.1"/>
<line x1="232.1" y1="266.40500000000003" x2="237.1" y2="266.40500000000003" stroke="#000" stroke-width="1.2"/>
<rect x="230.80" y="268.63" width="7.60" height="30.67" fill="#000" stroke="#000" stroke-width="1.4"/>
<line x1="245.7" y1="272.1" x2="245.7" y2="270.40000000000003" stroke="#000" stroke-width="1.1"/>
<line x1="243.2" y1="270.40000000000003" x2="248.2" y2="270.40000000000003" stroke="#000" stroke-width="1.2"/>
<rect x="242.10" y="272.20" width="7.20" height="27.10" fill="url(#hatch)" stroke="#000" stroke-width="1.4"/>
<line x1="264.4" y1="285.53000000000003" x2="264.4" y2="282.555" stroke="#000" stroke-width="1.1"/>
<line x1="261.9" y1="282.555" x2="266.9" y2="282.555" stroke="#000" stroke-width="1.2"/>
<rect x="260.80" y="285.63" width="7.20" height="13.67" fill="#fff" stroke="#000" stroke-width="1.4"/>
<line x1="276.2" y1="239.29000000000002" x2="276.2" y2="237.16500000000002" stroke="#000" stroke-width="1.1"/>
<line x1="273.7" y1="237.16500000000002" x2="278.7" y2="237.16500000000002" stroke="#000" stroke-width="1.2"/>
<rect x="272.60" y="239.39" width="7.20" height="59.91" fill="#000" stroke="#000" stroke-width="1.4"/>
<line x1="287.5" y1="241.5" x2="287.5" y2="238.525" stroke="#000" stroke-width="1.1"/>
<line x1="285.0" y1="238.525" x2="290.0" y2="238.525" stroke="#000" stroke-width="1.2"/>
<rect x="284.00" y="241.60" width="7.00" height="57.70" fill="url(#hatch)" stroke="#000" stroke-width="1.4"/>
<line x1="306.2" y1="275.5" x2="306.2" y2="272.52500000000003" stroke="#000" stroke-width="1.1"/>
<line x1="303.7" y1="272.52500000000003" x2="308.7" y2="272.52500000000003" stroke="#000" stroke-width="1.2"/>
<rect x="302.60" y="275.60" width="7.20" height="23.70" fill="#fff" stroke="#000" stroke-width="1.4"/>
<line x1="317.84999999999997" y1="251.70000000000002" x2="317.84999999999997" y2="249.57500000000002" stroke="#000" stroke-width="1.1"/>
<line x1="315.34999999999997" y1="249.57500000000002" x2="320.34999999999997" y2="249.57500000000002" stroke="#000" stroke-width="1.2"/>
<rect x="314.30" y="251.80" width="7.10" height="47.50" fill="#000" stroke="#000" stroke-width="1.4"/>
<line x1="329.1" y1="255.10000000000002" x2="329.1" y2="253.57000000000002" stroke="#000" stroke-width="1.1"/>
<line x1="326.6" y1="253.57000000000002" x2="331.6" y2="253.57000000000002" stroke="#000" stroke-width="1.2"/>
<rect x="325.60" y="255.20" width="7.00" height="44.10" fill="url(#hatch)" stroke="#000" stroke-width="1.4"/>
<text x="220.55" y="310" font-size="8.2" font-weight="bold" text-anchor="start" textLength="22.8" lengthAdjust="spacingAndGlyphs" stroke="#000" stroke-width="0.22">LIVER</text>
<text x="265.35" y="310" font-size="8.2" font-weight="bold" text-anchor="start" textLength="28.0" lengthAdjust="spacingAndGlyphs" stroke="#000" stroke-width="0.22">COLON</text>
<text x="312.85" y="310" font-size="8.2" font-weight="bold" text-anchor="start" textLength="18.8" lengthAdjust="spacingAndGlyphs" stroke="#000" stroke-width="0.22">SKIN</text>
<text x="227.5" y="246.6" font-size="7" font-weight="bold" text-anchor="middle" font-style="italic" textLength="21.8" lengthAdjust="spacingAndGlyphs" stroke="#000" stroke-width="0.22">P &lt; .05</text>
<path d="M217.6 251.60000000000002V248.8H237.5V251.60000000000002" fill="none" stroke="#000" stroke-width="0.9"/>
<text x="233" y="259.8" font-size="7" font-weight="bold" text-anchor="middle" font-style="italic" textLength="21.8" lengthAdjust="spacingAndGlyphs" stroke="#000" stroke-width="0.22">P &lt; .05</text>
<path d="M220 264.8V262H245.8V264.8" fill="none" stroke="#000" stroke-width="0.9"/>
<text x="269.5" y="219.2" font-size="7" font-weight="bold" text-anchor="middle" font-style="italic" textLength="21.8" lengthAdjust="spacingAndGlyphs" stroke="#000" stroke-width="0.22">P &lt; .05</text>
<path d="M259.3 224.4V221.6H278.8V224.4" fill="none" stroke="#000" stroke-width="0.9"/>
<text x="275" y="230.6" font-size="7" font-weight="bold" text-anchor="middle" font-style="italic" textLength="21.8" lengthAdjust="spacingAndGlyphs" stroke="#000" stroke-width="0.22">P &lt; .05</text>
<path d="M262.5 235.3V232.5H288.3V235.3" fill="none" stroke="#000" stroke-width="0.9"/>
<text x="311.3" y="230" font-size="7" font-weight="bold" text-anchor="middle" font-style="italic" textLength="21.8" lengthAdjust="spacingAndGlyphs" stroke="#000" stroke-width="0.22">P &lt; .05</text>
<path d="M301.6 234.60000000000002V231.8H321.3V234.60000000000002" fill="none" stroke="#000" stroke-width="0.9"/>
<text x="316.8" y="243.2" font-size="7" font-weight="bold" text-anchor="middle" font-style="italic" textLength="21.8" lengthAdjust="spacingAndGlyphs" stroke="#000" stroke-width="0.22">P &lt; .05</text>
<path d="M303.8 248.10000000000002V245.3H329.3V248.10000000000002" fill="none" stroke="#000" stroke-width="0.9"/>
</g>
<g id="panelE">
<text x="360.4" y="31" font-size="17.5" font-weight="bold" text-anchor="start" textLength="11.2" lengthAdjust="spacingAndGlyphs" stroke="#000" stroke-width="0.22">E</text>
<text x="455.35" y="27.1" font-size="11.8" font-weight="bold" text-anchor="start" textLength="43.0" lengthAdjust="spacingAndGlyphs" stroke="#000" stroke-width="0.22">COLON</text>
<text x="369.65" y="75.5" font-size="8.2" font-weight="bold" text-anchor="start" textLength="63.6" lengthAdjust="spacingAndGlyphs" stroke="#000" stroke-width="0.22">UNDEP DONOR,</text>
<text x="383.15" y="84.8" font-size="8.2" font-weight="bold" text-anchor="start" textLength="37.7" lengthAdjust="spacingAndGlyphs" stroke="#000" stroke-width="0.22">WT HOST</text>
<text x="361.45" y="170.8" font-size="8.2" font-weight="bold" text-anchor="start" textLength="74.1" lengthAdjust="spacingAndGlyphs" stroke="#000" stroke-width="0.22">CD25-DEP DONOR,</text>
<text x="380.45" y="180.1" font-size="8.2" font-weight="bold" text-anchor="start" textLength="37.3" lengthAdjust="spacingAndGlyphs" stroke="#000" stroke-width="0.22">WT HOST</text>
<text x="379.75" y="257.4" font-size="8.2" font-weight="bold" text-anchor="start" textLength="51.9" lengthAdjust="spacingAndGlyphs" stroke="#000" stroke-width="0.22">UNT DONOR,</text>
<text x="378.15" y="267.9" font-size="8.2" font-weight="bold" text-anchor="start" textLength="5.1" lengthAdjust="spacingAndGlyphs" stroke="#000" stroke-width="0.22">J</text>
<text x="384.00" y="267.9" font-size="10.66" font-weight="normal" font-family="'Liberation Serif', serif" fill="#111" stroke="#111" stroke-width="0.12" textLength="5.50" lengthAdjust="spacingAndGlyphs">α</text>
<text x="390.55" y="267.9" font-size="8.2" font-weight="bold" text-anchor="start" textLength="8.6" lengthAdjust="spacingAndGlyphs" stroke="#000" stroke-width="0.22">18</text>
<text x="401.5" y="264.95" font-size="6.4" font-weight="bold" text-anchor="start" font-style="italic" letter-spacing="0.58" stroke="#000" stroke-width="0.2">-/-</text>
<text x="410.45" y="267.9" font-size="8.2" font-weight="bold" text-anchor="start" textLength="22.0" lengthAdjust="spacingAndGlyphs" stroke="#000" stroke-width="0.22">HOST</text>
<g transform="translate(438.3 34.3)">
<g filter="url(#h0)">
<rect x="0" y="0" width="81" height="82" fill="#808080"/>
<rect x="1" y="8" width="6.4" height="62" fill="#949494" rx="3.5"/>
<rect x="3" y="14" width="2.4000000000000004" height="50" fill="#a8a8a8" rx="2.5"/>
<rect x="12.5" y="9" width="11.5" height="62" fill="#949494" rx="3.5"/>
<rect x="14.5" y="15" width="7.5" height="50" fill="#a8a8a8" rx="2.5"/>
<rect x="37" y="20" width="13.5" height="50" fill="#949494" rx="3.5"/>
<rect x="39" y="26" width="9.5" height="38" fill="#a8a8a8" rx="2.5"/>
<rect x="56.5" y="8" width="13.0" height="62" fill="#949494" rx="3.5"/>
<rect x="58.5" y="14" width="9.0" height="50" fill="#a8a8a8" rx="2.5"/>
<rect x="72.5" y="8" width="8.5" height="58" fill="#949494" rx="3.5"/>
<rect x="74.5" y="14" width="4.5" height="46" fill="#a8a8a8" rx="2.5"/>
<rect x="5.4" y="34" width="8" height="33" fill="#c0c0c0" rx="3.5"/>
<rect x="45.6" y="40" width="8" height="28" fill="#bcbcbc" rx="3.5"/>
<rect x="61.4" y="36" width="8" height="31" fill="#c0c0c0" rx="3.5"/>
<rect x="28" y="44" width="4" height="22" fill="#a8a8a8" rx="2"/>
<rect x="8.8" y="12" width="2.0" height="58" fill="#5e5e5e"/>
<rect x="25.8" y="28" width="2.6" height="44" fill="#5e5e5e"/>
<rect x="32.4" y="12" width="3.6" height="60" fill="#5e5e5e"/>
<rect x="52.2" y="8" width="2.8" height="60" fill="#5e5e5e"/>
<rect x="70" y="6" width="2" height="58" fill="#5e5e5e"/>
<rect x="17" y="34" width="2" height="36" fill="#5e5e5e"/>
<rect x="40" y="30" width="2.2" height="40" fill="#5e5e5e"/>
<rect x="22.6" y="8" width="1.8" height="32" fill="#5e5e5e"/>
<rect x="56.4" y="10" width="1.8" height="56" fill="#5e5e5e"/>
<path d="M38 6.5L51 6.5L46.4 20L42.6 20Z" fill="#4c4c4c"/>
<rect x="0" y="0" width="81" height="4.2" fill="#f4f4f4"/>
<ellipse cx="64.7" cy="11.4" rx="2.125" ry="2.75" fill="#e6e6e6" opacity=".8"/>
<ellipse cx="68.8" cy="17.9" rx="1.9549999999999998" ry="2.53" fill="#e6e6e6" opacity=".8"/>
<ellipse cx="65.5" cy="24.4" rx="1.7" ry="2.2" fill="#e6e6e6" opacity=".8"/>
<ellipse cx="76.9" cy="17" rx="1.87" ry="2.4200000000000004" fill="#e6e6e6" opacity=".8"/>
<ellipse cx="78.5" cy="11.4" rx="1.7" ry="2.2" fill="#e6e6e6" opacity=".8"/>
<ellipse cx="77" cy="25" rx="1.53" ry="1.9800000000000002" fill="#e6e6e6" opacity=".8"/>
<ellipse cx="19.8" cy="15.5" rx="1.7" ry="2.2" fill="#e6e6e6" opacity=".8"/>
<ellipse cx="11.4" cy="22.7" rx="1.53" ry="1.9800000000000002" fill="#e6e6e6" opacity=".8"/>
<ellipse cx="20.3" cy="23.5" rx="1.53" ry="1.9800000000000002" fill="#e6e6e6" opacity=".8"/>
<ellipse cx="25" cy="32.4" rx="1.53" ry="1.9800000000000002" fill="#e6e6e6" opacity=".8"/>
<ellipse cx="35.2" cy="20.3" rx="1.53" ry="1.9800000000000002" fill="#e6e6e6" opacity=".8"/>
<ellipse cx="52" cy="22" rx="1.7" ry="2.2" fill="#e6e6e6" opacity=".8"/>
<ellipse cx="54" cy="29" rx="1.53" ry="1.9800000000000002" fill="#e6e6e6" opacity=".8"/>
<ellipse cx="2.5" cy="13" rx="1.36" ry="1.7600000000000002" fill="#e6e6e6" opacity=".8"/>
<ellipse cx="9" cy="38" rx="1.7" ry="2.2" fill="#e6e6e6" opacity=".8"/>
<ellipse cx="7" cy="50" rx="1.7" ry="2.2" fill="#e6e6e6" opacity=".8"/>
<ellipse cx="11" cy="58" rx="1.53" ry="1.9800000000000002" fill="#e6e6e6" opacity=".8"/>
<ellipse cx="48" cy="46" rx="1.7" ry="2.2" fill="#e6e6e6" opacity=".8"/>
<ellipse cx="50" cy="56" rx="1.7" ry="2.2" fill="#e6e6e6" opacity=".8"/>
<ellipse cx="47" cy="63" rx="1.53" ry="1.9800000000000002" fill="#e6e6e6" opacity=".8"/>
<ellipse cx="64" cy="42" rx="1.7" ry="2.2" fill="#e6e6e6" opacity=".8"/>
<ellipse cx="66" cy="52" rx="1.7" ry="2.2" fill="#e6e6e6" opacity=".8"/>
<ellipse cx="63" cy="60" rx="1.53" ry="1.9800000000000002" fill="#e6e6e6" opacity=".8"/>
<ellipse cx="21" cy="44" rx="1.36" ry="1.7600000000000002" fill="#e6e6e6" opacity=".8"/>
<ellipse cx="30" cy="50" rx="1.275" ry="1.6500000000000001" fill="#e6e6e6" opacity=".8"/>
<ellipse cx="76" cy="40" rx="1.53" ry="1.9800000000000002" fill="#e6e6e6" opacity=".8"/>
<ellipse cx="77" cy="52" rx="1.36" ry="1.7600000000000002" fill="#e6e6e6" opacity=".8"/>
<ellipse cx="14" cy="30" rx="1.36" ry="1.7600000000000002" fill="#e6e6e6" opacity=".8"/>
<ellipse cx="58" cy="32" rx="1.36" ry="1.7600000000000002" fill="#e6e6e6" opacity=".8"/>
<path d="M0 74L30 73L56 69L81 61L81 82L0 82Z" fill="#bcbcbc"/>
<path d="M0 80.4H81V82H0Z" fill="#777"/>
</g>
<g filter="url(#hb)">
<rect x="0" y="0" width="81" height="3.8" fill="#fbfbfb"/>
<path d="M7.6 3.6L11 3.6L10 12.6Z" fill="#f8f8f8"/>
<path d="M24.8 3.6L30.8 3.6L29.2 18L27.8 29L26.6 18Z" fill="#fff"/>
<path d="M30.8 3.6L35.8 3.6L33 12Z" fill="#f6f6f6"/>
<path d="M51.8 3.6L55.6 3.6L54 8.5Z" fill="#f6f6f6"/>
<path d="M35 2.2H46V3.3H35Z" fill="#666"/>
<ellipse cx="64.7" cy="11.4" rx="1.5" ry="2.0" fill="#f4f4f4" opacity=".55"/>
<ellipse cx="68.8" cy="17.9" rx="1.38" ry="1.8399999999999999" fill="#f4f4f4" opacity=".55"/>
<ellipse cx="65.5" cy="24.4" rx="1.2" ry="1.6" fill="#f4f4f4" opacity=".55"/>
<ellipse cx="76.9" cy="17" rx="1.32" ry="1.7600000000000002" fill="#f4f4f4" opacity=".55"/>
<ellipse cx="78.5" cy="11.4" rx="1.2" ry="1.6" fill="#f4f4f4" opacity=".55"/>
<path d="M44.5 69L47 72.5L51 73.3L50 74.4L46 73.6L43.6 70Z" fill="#fff"/>
<path d="M30 76.5L54 73.5L78 68.5L79 71.5L56 77L32 79.5Z" fill="#fafafa" opacity=".9"/>
<path d="M2 78L26 77L26 80.2L2 80.2Z" fill="#e8e8e8" opacity=".8"/>
</g>
<rect x="0.2" y="0.2" width="80.6" height="81" fill="none" stroke="#222" stroke-width="1"/>
</g>
<g transform="translate(438.3 128.2)">
<g filter="url(#h1)">
<rect x="0" y="0" width="81" height="82" fill="#8e8e8e"/>
<ellipse cx="4" cy="34" rx="6" ry="26" fill="#828282"/>
<ellipse cx="28" cy="40" rx="9" ry="16" fill="#a2a2a2"/>
<ellipse cx="48" cy="30" rx="7" ry="16" fill="#9a9a9a"/>
<ellipse cx="62" cy="22" rx="9" ry="12" fill="#808080"/>
<ellipse cx="55" cy="57" rx="8" ry="7" fill="#787878"/>
<ellipse cx="12" cy="52" rx="8" ry="6" fill="#7e7e7e"/>
<ellipse cx="76" cy="40" rx="5" ry="14" fill="#969696"/>
<ellipse cx="30" cy="60" rx="10" ry="5" fill="#8c8c8c"/>
<ellipse cx="24" cy="20" rx="5" ry="10" fill="#868686"/>
<ellipse cx="68" cy="52" rx="6" ry="8" fill="#888888"/>
<ellipse cx="40" cy="46" rx="6" ry="8" fill="#a6a6a6"/>
<rect x="0" y="0" width="81" height="5" fill="#f0f0f0"/>
<path d="M0 67.4L18 65.6L40 66.4L62 65.4L81 66.4L81 75L62 74.4L40 75L18 74.6L0 75Z" fill="#d4d4d4"/>
<path d="M0 75H81V82H0Z" fill="#a2a2a2"/>
<path d="M0 79.6H81V82H0Z" fill="#cacaca"/>
</g>
<g filter="url(#hb)">
<path d="M0 0H81V3.4L76 3L72 8L68.6 9L66 6L62.4 4L58 5.4L54.6 9.6L51.8 6L48 5L44.6 7L43 10L40.6 5.4L37 9L36 14L33.6 9L30.4 5L27 7.6L25.6 11L22.6 6.4L19 5L15.4 7.4L12 5L8 6.4L4 4.6L0 5.4Z" fill="#fcfcfc"/>
<ellipse cx="22.7" cy="5.2" rx="1.3" ry="1.5" fill="#242424"/>
<ellipse cx="32.6" cy="7.6" rx="2.1" ry="3.4" fill="#242424"/>
<ellipse cx="38.4" cy="6.6" rx="1.5" ry="2.4" fill="#242424"/>
<ellipse cx="51.8" cy="4.4" rx="2.6" ry="1" fill="#242424"/>
<ellipse cx="69.4" cy="3.6" rx="4.6" ry="2.3" fill="#242424"/>
<ellipse cx="78.4" cy="5.4" rx="2.2" ry="2" fill="#242424"/>
<ellipse cx="8" cy="6.6" rx="2.4" ry="1.1" fill="#242424"/>
<g transform="rotate(-14 17 22)">
<ellipse cx="17.2" cy="22.4" rx="3.6" ry="12.4" fill="#fbfbfb"/>
<ellipse cx="15" cy="21" rx="2" ry="6.6" fill="#3c3c3c"/>
<ellipse cx="18.6" cy="24" rx="1.9" ry="9" fill="#fff"/>
</g>
<g transform="rotate(-4 38.5 22)">
<ellipse cx="38.5" cy="22" rx="2.7" ry="9" fill="#f8f8f8"/>
<ellipse cx="38.4" cy="19" rx="1.5" ry="4.2" fill="#333"/>
<ellipse cx="39" cy="28" rx="1.5" ry="3" fill="#fff"/>
</g>
<ellipse cx="74" cy="15.5" rx="1.4" ry="5.4" fill="#f8f8f8"/>
<ellipse cx="53.4" cy="42" rx="1.4" ry="5.4" fill="#f8f8f8"/>
<ellipse cx="22.6" cy="41" rx="1.3" ry="3.8" fill="#f4f4f4"/>
<ellipse cx="26.4" cy="13" rx="1.1" ry="3" fill="#ececec"/>
<ellipse cx="60.6" cy="13" rx="1.1" ry="2.6" fill="#e8e8e8"/>
<ellipse cx="46" cy="12" rx="1" ry="2.4" fill="#e4e4e4"/>
<path d="M16 67.8L40 68.2L64 67.4L65 71.6L40 73L17 72.4Z" fill="#fff" opacity=".92"/>
<path d="M6 77L40 76.6L76 77.2L76 78.3L40 77.9L6 78.3Z" fill="#555" opacity=".75"/>
</g>
<text x="11.4" y="58.0" font-size="18.5" font-weight="bold" text-anchor="middle" stroke="#000" stroke-width="0.3">*</text>
<text x="55" y="63.300000000000004" font-size="18.5" font-weight="bold" text-anchor="middle" stroke="#000" stroke-width="0.3">*</text>
<line x1="43.4" y1="64.5" x2="39.8" y2="58.1" stroke="#000" stroke-width="1.25"/>
<path d="M37.0 53.2L42.1 56.7L37.4 59.4Z" fill="#000"/>
<line x1="70.4" y1="58.0" x2="70.7" y2="50.7" stroke="#000" stroke-width="1.25"/>
<path d="M70.9 45.1L73.4 50.8L68.0 50.6Z" fill="#000"/>
<rect x="0.2" y="0.2" width="80.6" height="81" fill="none" stroke="#222" stroke-width="1"/>
</g>
<g transform="translate(438.3 221.8)">
<g filter="url(#h2)">
<rect x="0" y="0" width="81" height="82" fill="#888888"/>
<ellipse cx="5" cy="34" rx="6" ry="24" fill="#808080"/>
<ellipse cx="28" cy="26" rx="12" ry="14" fill="#8e8e8e"/>
<ellipse cx="55" cy="33" rx="6" ry="8" fill="#a6a6a6"/>
<ellipse cx="70" cy="44" rx="9" ry="12" fill="#868686"/>
<ellipse cx="40" cy="56" rx="14" ry="10" fill="#8a8a8a"/>
<ellipse cx="14" cy="58" rx="9" ry="9" fill="#8a8a8a"/>
<ellipse cx="30" cy="8" rx="14" ry="4" fill="#7a7a7a"/>
<path d="M1 1.4L14 1.4L13 7L3 8.4Z" fill="#e6e6e6"/>
<path d="M36 1L60 1L60 2.6L36 3Z" fill="#ddd"/>
<path d="M0 71L24 70L50 71L81 69.6L81 82L0 82Z" fill="#b2b2b2"/>
<path d="M0 80.2H81V82H0Z" fill="#777"/>
</g>
<g filter="url(#hb)">
<path d="M61 5L66 1L81 1L81 8L78 16L72 12L66 8Z" fill="#fff"/>
<path d="M78.8 8L81 8L81 17L78.8 16Z" fill="#555"/>
<path d="M2 1.4L12 1.4L11 5L4 6Z" fill="#f4f4f4" opacity=".8"/>
<rect x="10.2" y="15.4" width="4.6" height="17.6" fill="#fdfdfd" rx="2.2"/>
<ellipse cx="12.8" cy="21" rx="0.9" ry="0.9" fill="#777"/>
<ellipse cx="50.2" cy="16" rx="3.3" ry="5" fill="#f8f8f8"/>
<ellipse cx="50.4" cy="16.4" rx="1.3" ry="2.4" fill="#444"/>
<ellipse cx="72.8" cy="33" rx="3.1" ry="3.1" fill="#f6f6f6"/>
<ellipse cx="72.8" cy="33.2" rx="1.3" ry="1.3" fill="#444"/>
<ellipse cx="53" cy="29" rx="1.6" ry="1.6" fill="#f4f4f4" opacity=".85"/>
<ellipse cx="57" cy="33" rx="1.7" ry="1.7" fill="#f4f4f4" opacity=".85"/>
<ellipse cx="54" cy="37" rx="1.6" ry="1.6" fill="#f4f4f4" opacity=".85"/>
<ellipse cx="30" cy="40.7" rx="1.2" ry="1.2" fill="#f4f4f4" opacity=".85"/>
<ellipse cx="53.4" cy="51.2" rx="1.3" ry="1.3" fill="#f4f4f4" opacity=".85"/>
<ellipse cx="62" cy="24" rx="1.4" ry="1.4" fill="#f4f4f4" opacity=".85"/>
<ellipse cx="66" cy="29" rx="1.3" ry="1.3" fill="#f4f4f4" opacity=".85"/>
<ellipse cx="22" cy="12" rx="1.4" ry="1.4" fill="#f4f4f4" opacity=".85"/>
<ellipse cx="40" cy="20" rx="1.3" ry="1.3" fill="#f4f4f4" opacity=".85"/>
<path d="M8 76.6L20 75.6L20 79L8 79.6Z" fill="#fff"/>
<path d="M24 75.4L35 75L35 78.6L24 79Z" fill="#fff"/>
<path d="M39 76.4L62 75.6L62 79L39 79.6Z" fill="#fff"/>
<path d="M64 75.6L78 75L78 76.4L64 77Z" fill="#f8f8f8"/>
</g>
<text x="41.3" y="45.900000000000006" font-size="18.5" font-weight="bold" text-anchor="middle" stroke="#000" stroke-width="0.3">*</text>
<text x="65.2" y="57.6" font-size="18.5" font-weight="bold" text-anchor="middle" stroke="#000" stroke-width="0.3">*</text>
<line x1="30.8" y1="62.5" x2="31.1" y2="50.2" stroke="#000" stroke-width="1.25"/>
<path d="M31.3 44.6L33.8 50.3L28.4 50.1Z" fill="#000"/>
<line x1="63.0" y1="72.2" x2="57.2" y2="61.2" stroke="#000" stroke-width="1.25"/>
<path d="M54.6 56.2L59.6 59.9L54.8 62.4Z" fill="#000"/>
<rect x="0.2" y="0.2" width="80.6" height="81" fill="none" stroke="#222" stroke-width="1"/>
</g>
</g>
</g>
</svg></body></html>
